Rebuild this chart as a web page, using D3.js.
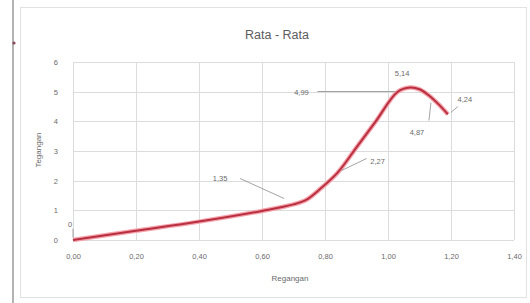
<!DOCTYPE html>
<html lang="en">
<head>
    <meta charset="UTF-8">
    <title>Rata - Rata</title>
    <script src="https://d3js.org/d3.v7.min.js"></script>
    <style>
        html, body { margin:0; background:#fff; }
        svg { position:absolute; top:0; left:0; font-family:"Liberation Sans", Arial, sans-serif; }
    </style>
</head>
<body>
<svg width="530" height="303"></svg>
<script>
    // data
    var regangan = [0, 0.2, 0.4, 0.6, 0.7, 0.74, 0.78, 0.84, 0.9, 0.96, 1.03, 1.07, 1.1, 1.13, 1.16, 1.19];
    var tegangan = [0, 0.31, 0.62, 0.98, 1.2, 1.35, 1.68, 2.27, 3.12, 3.98, 4.99, 5.14, 5.08, 4.87, 4.58, 4.24];
    var labelled = [0, 5, 7, 10, 11, 13, 15];   // indexes that carry a data label
    var xTicks = [0, 0.2, 0.4, 0.6, 0.8, 1.0, 1.2, 1.4];
    var yTicks = [0, 1, 2, 3, 4, 5, 6];

    // label offsets (dx, dy from the point) and leader line ends
    var labelPos = {
        0:  {dx: -3, dy: -16, lead: [[0, -3], [0, -12]]},
        5:  {dx: -86, dy: -22, lead: [[-66, -22], [-22, -2]]},
        7:  {dx: 40, dy: -12, lead: [[29, -15], [4, -3]]},
        10: {dx: -96, dy: 0, lead: [[-80, -0.5], [-2, -0.5]]},
        11: {dx: -8, dy: -15, lead: null},
        13: {dx: -12, dy: 36, lead: [[0, 24], [2, 6]]},
        15: {dx: 17, dy: -15, lead: [[10, -8], [3, -2]]}
    };

    var svg = d3.select("svg");
    var fmt = function (v, d) { return d3.format("." + d + "f")(v).replace(".", ","); };

    // frame
    svg.append("rect").attr("x", 20.5).attr("y", 7.5).attr("width", 506).attr("height", 290)
        .attr("fill", "#fff").attr("stroke", "#e2e2e2");
    svg.append("line").attr("x1", 13).attr("x2", 13).attr("y1", 0).attr("y2", 303)
        .attr("stroke", "#9a9a9a").attr("stroke-width", 1.5);
    svg.append("circle").attr("cx", 14).attr("cy", 43).attr("r", 1.6).attr("fill", "#8a4a55");

    var x = d3.scaleLinear().domain([0, 1.4]).range([73, 514]);
    var y = d3.scaleLinear().domain([0, 6]).range([240, 62]);

    var g = svg.append("g");

    // grid
    g.selectAll(".vg").data(xTicks).enter().append("line")
        .attr("x1", function (d) { return Math.round(x(d)) + 0.5; })
        .attr("x2", function (d) { return Math.round(x(d)) + 0.5; })
        .attr("y1", y(0)).attr("y2", y(6))
        .attr("stroke", "#dcdcdc");
    g.selectAll(".hg").data(yTicks).enter().append("line")
        .attr("y1", function (d) { return Math.round(y(d)) + 0.5; })
        .attr("y2", function (d) { return Math.round(y(d)) + 0.5; })
        .attr("x1", x(0)).attr("x2", x(1.4))
        .attr("stroke", "#dcdcdc");

    // axes
    var xAxis = d3.axisBottom(x).tickValues(xTicks).tickSize(0).tickPadding(14)
        .tickFormat(function (d) { return fmt(d, 2); });
    var yAxis = d3.axisLeft(y).tickValues(yTicks).tickSize(0).tickPadding(15)
        .tickFormat(function (d) { return d; });

    var gx = g.append("g").attr("transform", "translate(0," + y(0) + ")").call(xAxis);
    var gy = g.append("g").attr("transform", "translate(" + x(0) + ",0)").call(yAxis);
    [gx, gy].forEach(function (a) {
        a.select(".domain").remove();
        a.selectAll("text").attr("fill", "#6a6a6a").style("font-size", "7.5px");
    });

    // titles
    svg.append("text").attr("x", 277).attr("y", 39).attr("text-anchor", "middle")
        .attr("fill", "#5c5c5c").style("font-size", "12.5px").text("Rata - Rata");
    svg.append("text").attr("x", 290).attr("y", 281).attr("text-anchor", "middle")
        .attr("fill", "#6a6a6a").style("font-size", "8px").text("Regangan");
    svg.append("text").attr("transform", "translate(41,150) rotate(-90)").attr("text-anchor", "middle")
        .attr("fill", "#6a6a6a").style("font-size", "8px").text("Tegangan");

    // series
    var pts = regangan.map(function (d, i) { return [d, tegangan[i]]; });
    var line = d3.line()
        .x(function (d) { return x(d[0]); })
        .y(function (d) { return y(d[1]); })
        .curve(d3.curveCatmullRom.alpha(0.5));

    g.append("path").datum(pts).attr("d", line).attr("fill", "none")
        .attr("stroke", "#f5a3ad").attr("stroke-width", 4.5).attr("stroke-linejoin", "round");
    g.append("path").datum(pts).attr("d", line).attr("fill", "none")
        .attr("stroke", "#b8303f").attr("stroke-width", 2).attr("stroke-linejoin", "round");

    // data labels with leader lines
    labelled.forEach(function (i) {
        var px = x(regangan[i]), py = y(tegangan[i]);
        var p = labelPos[i];
        if (p.lead) {
            g.append("line")
                .attr("x1", px + p.lead[0][0]).attr("y1", Math.round(py + p.lead[0][1]) + 0.5)
                .attr("x2", px + p.lead[1][0]).attr("y2", Math.round(py + p.lead[1][1]) + 0.5)
                .attr("stroke", "#8c8c8c").attr("stroke-width", 0.8);
        }
        g.append("text")
            .attr("x", px + p.dx).attr("y", py + p.dy + 3)
            .attr("text-anchor", "middle")
            .attr("fill", "#6a6a6a").style("font-size", "7.5px")
            .text(tegangan[i] === 0 ? "0" : fmt(tegangan[i], 2));
    });
</script>
</body>
</html>
